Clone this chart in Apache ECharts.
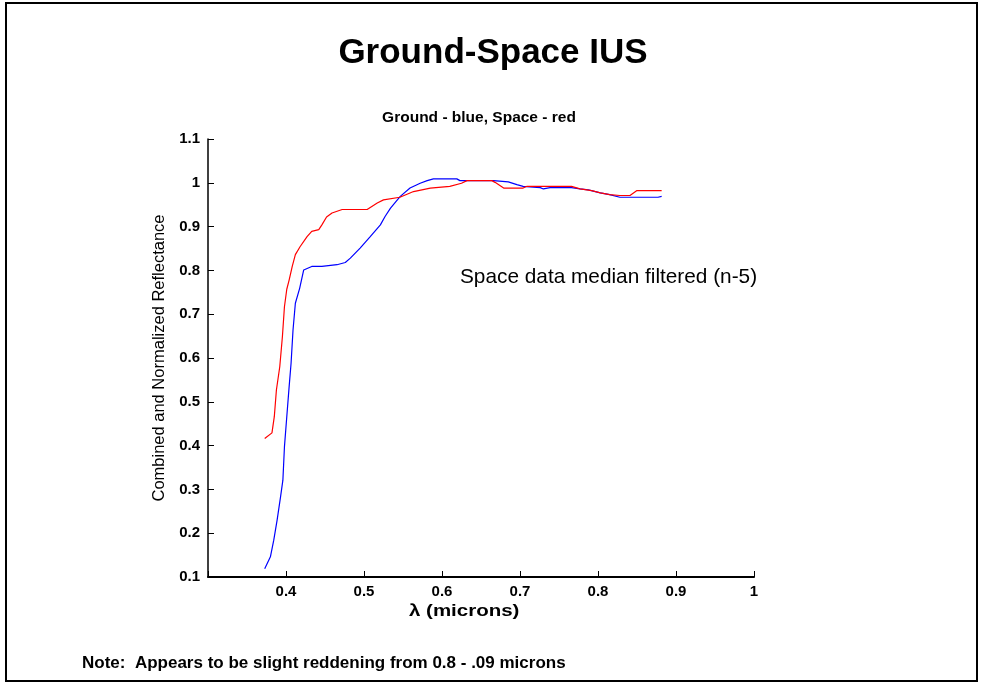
<!DOCTYPE html>
<html>
<head>
<meta charset="utf-8">
<script src="https://cdn.jsdelivr.net/npm/echarts@6/dist/echarts.min.js"></script>
<style>
  html, body { margin: 0; padding: 0; background: #fff; }
  #chart { width: 981px; height: 686px; }
</style>
</head>
<body>
<div id="chart"></div>
<script>
// Ground spectrum (blue): wavelength in microns and normalized reflectance
const groundWl = [0.3727, 0.380, 0.3843, 0.3886, 0.393, 0.396, 0.398, 0.401, 0.404, 0.4065, 0.409, 0.412, 0.4175, 0.4227, 0.433, 0.446, 0.4654, 0.476, 0.4825, 0.495, 0.508, 0.521, 0.527, 0.534, 0.5465, 0.559, 0.572, 0.581, 0.589, 0.619, 0.623, 0.666, 0.685, 0.696, 0.704, 0.726, 0.730, 0.7385, 0.766, 0.777, 0.7876, 0.803, 0.815, 0.828, 0.877, 0.8816];
const groundRefl = [0.119, 0.146, 0.184, 0.230, 0.283, 0.321, 0.397, 0.466, 0.534, 0.588, 0.664, 0.725, 0.759, 0.801, 0.809, 0.809, 0.813, 0.818, 0.828, 0.851, 0.877, 0.904, 0.923, 0.942, 0.969, 0.988, 0.999, 1.005, 1.009, 1.009, 1.005, 1.005, 1.002, 0.996, 0.992, 0.989, 0.986, 0.989, 0.989, 0.986, 0.984, 0.977, 0.973, 0.967, 0.967, 0.969];

// Space spectrum (red), median filtered
const spaceWl = [0.3727, 0.382, 0.385, 0.3877, 0.392, 0.3954, 0.398, 0.401, 0.404, 0.408, 0.412, 0.418, 0.427, 0.433, 0.442, 0.446, 0.452, 0.459, 0.472, 0.504, 0.517, 0.525, 0.546, 0.5635, 0.585, 0.610, 0.625, 0.632, 0.664, 0.668, 0.679, 0.704, 0.709, 0.766, 0.777, 0.792, 0.803, 0.815, 0.828, 0.841, 0.8495, 0.8816];
const spaceRefl = [0.416, 0.429, 0.466, 0.527, 0.580, 0.649, 0.717, 0.757, 0.778, 0.809, 0.836, 0.854, 0.877, 0.889, 0.893, 0.904, 0.922, 0.931, 0.939, 0.939, 0.954, 0.961, 0.967, 0.980, 0.988, 0.992, 0.999, 1.005, 1.005, 1.001, 0.988, 0.988, 0.992, 0.992, 0.986, 0.982, 0.977, 0.973, 0.971, 0.971, 0.982, 0.982];

// Axis ranges and tick labels
const xRange = [0.3, 1.0];
const yRange = [0.1, 1.1];
const xTickLabels = ['', '0.4', '0.5', '0.6', '0.7', '0.8', '0.9', '1'];
const yTickLabels = ['0.1', '0.2', '0.3', '0.4', '0.5', '0.6', '0.7', '0.8', '0.9', '1', '1.1'];

const FONT = 'Liberation Sans, Arial, sans-serif';
const pairs = (xs, ys) => xs.map((x, i) => [x, ys[i]]);

const chart = echarts.init(document.getElementById('chart'), null, { renderer: 'canvas' });
chart.setOption({
  backgroundColor: '#fff',
  animation: false,
  grid: { left: 208, right: 227, top: 139, bottom: 109, containLabel: false },
  xAxis: {
    type: 'value', min: xRange[0], max: xRange[1], interval: 0.1,
    axisLine: { lineStyle: { color: '#000', width: 2 } },
    axisTick: { inside: true, length: 6, lineStyle: { color: '#000', width: 1 } },
    axisLabel: {
      fontFamily: FONT, fontSize: 15, fontWeight: 'bold', color: '#000', margin: 7,
      formatter: v => xTickLabels[Math.round((v - xRange[0]) * 10)] || ''
    },
    splitLine: { show: false }
  },
  yAxis: {
    type: 'value', min: yRange[0], max: yRange[1], interval: 0.1,
    name: 'Combined and Normalized Reflectance', nameLocation: 'middle', nameGap: 40,
    nameTextStyle: { fontFamily: FONT, fontSize: 16.5, color: '#000' },
    axisLine: { lineStyle: { color: '#000', width: 1.5 } },
    axisTick: { inside: true, length: 6, lineStyle: { color: '#000', width: 1 } },
    axisLabel: {
      fontFamily: FONT, fontSize: 15, fontWeight: 'bold', color: '#000', margin: 8,
      formatter: v => yTickLabels[Math.round((v - yRange[0]) * 10)] || ''
    },
    splitLine: { show: false }
  },
  series: [
    {
      name: 'Ground', type: 'line', data: pairs(groundWl, groundRefl),
      showSymbol: false, lineStyle: { color: '#0000ff', width: 1.2 }, z: 2
    },
    {
      name: 'Space', type: 'line', data: pairs(spaceWl, spaceRefl),
      showSymbol: false, lineStyle: { color: '#ff0000', width: 1.2 }, z: 3
    }
  ],
  graphic: [
    {
      type: 'rect', shape: { x: 6, y: 3, width: 971, height: 678 },
      style: { fill: 'none', stroke: '#000', lineWidth: 2 }, silent: true
    },
    {
      type: 'text', x: 493, y: 53,
      style: { text: 'Ground-Space IUS', font: 'bold 35px ' + FONT, fill: '#000', textAlign: 'center', textVerticalAlign: 'middle' }
    },
    {
      type: 'text', x: 479, y: 118,
      style: { text: 'Ground - blue, Space - red', font: 'bold 15.5px ' + FONT, fill: '#000', textAlign: 'center', textVerticalAlign: 'middle' }
    },
    {
      type: 'text', x: 409, y: 612, scaleX: 1.28,
      style: { text: 'λ (microns)', font: 'bold 16px ' + FONT, fill: '#000', textAlign: 'left', textVerticalAlign: 'middle' }
    },
    {
      type: 'text', x: 460, y: 277,
      style: { text: 'Space data median filtered (n-5)', font: '20.8px ' + FONT, fill: '#000', textAlign: 'left', textVerticalAlign: 'middle' }
    },
    {
      type: 'text', x: 82, y: 663,
      style: { text: 'Note:  Appears to be slight reddening from 0.8 - .09 microns', font: 'bold 17px ' + FONT, fill: '#000', textAlign: 'left', textVerticalAlign: 'middle' }
    }
  ]
});
</script>
</body>
</html>
